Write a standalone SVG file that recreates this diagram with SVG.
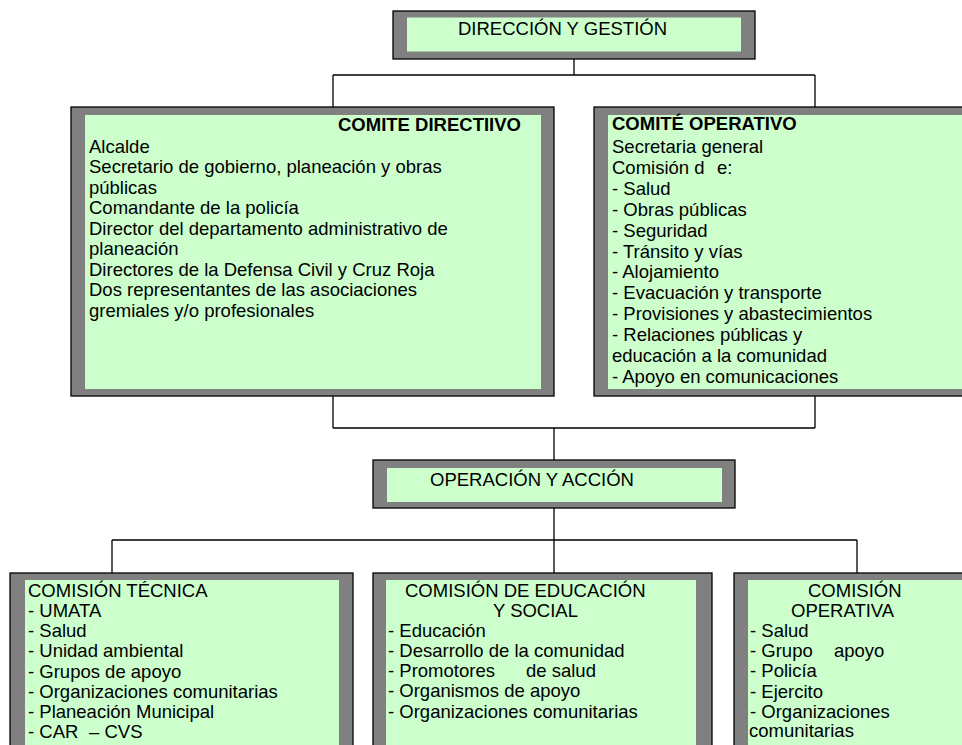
<svg xmlns="http://www.w3.org/2000/svg" width="962" height="745" viewBox="0 0 962 745">
<style>
.frame{fill:#808080;stroke:#000;stroke-width:1.3}
.fill{fill:#CCFFCC}
.t{font-family:"Liberation Sans",Arial,sans-serif;font-size:18.5px;fill:#000}
.b{font-weight:bold}
.conn{fill:none;stroke:#000;stroke-width:1.3}
</style>
<rect width="962" height="745" fill="#fff"/>
<g id="connectors" class="conn">
<path d="M574 59V75M333 75H815M333 75V107M815 75V107"/>
<path d="M333 396V428M815 396V428M333 428H815M554 428V460"/>
<path d="M554 508V540M112 540H857M112 540V573M554 540V573M857 540V573"/>
</g>
<g id="direccion">
<rect class="frame" x="393" y="11" width="362" height="48"/>
<rect class="fill" x="407" y="17.5" width="334" height="34"/>
<text class="t" x="458" y="35">DIRECCIÓN Y GESTIÓN</text>
</g>
<g id="comite-directivo">
<rect class="frame" x="71" y="107" width="483" height="289"/>
<rect class="fill" x="85" y="115" width="456" height="274"/>
<text class="t b" x="338" y="131">COMITE DIRECTIIVO</text>
<text class="t" x="89">
<tspan x="89" y="152.7">Alcalde</tspan>
<tspan x="89" y="173.2">Secretario de gobierno, planeación y obras</tspan>
<tspan x="89" y="193.7">públicas</tspan>
<tspan x="89" y="214.2">Comandante de la policía</tspan>
<tspan x="89" y="234.7">Director del departamento administrativo de</tspan>
<tspan x="89" y="255.2">planeación</tspan>
<tspan x="89" y="275.7">Directores de la Defensa Civil y Cruz Roja</tspan>
<tspan x="89" y="296.2">Dos representantes de las asociaciones</tspan>
<tspan x="89" y="316.7">gremiales y/o profesionales</tspan>
</text>
</g>
<g id="comite-operativo">
<rect class="frame" x="594" y="107" width="442" height="289"/>
<rect class="fill" x="608" y="115" width="414" height="274"/>
<text class="t b" x="612" y="130">COMITÉ OPERATIVO</text>
<text class="t">
<tspan x="612" y="153.3">Secretaria general</tspan>
<tspan x="612" y="174.2">Comisión d</tspan><tspan x="717" y="174.2">e:</tspan>
<tspan x="612" y="195">- Salud</tspan>
<tspan x="612" y="215.9">- Obras públicas</tspan>
<tspan x="612" y="236.7">- Seguridad</tspan>
<tspan x="612" y="257.6">- Tránsito y vías</tspan>
<tspan x="612" y="278.4">- Alojamiento</tspan>
<tspan x="612" y="299.3">- Evacuación y transporte</tspan>
<tspan x="612" y="320.1">- Provisiones y abastecimientos</tspan>
<tspan x="612" y="341">- Relaciones públicas y</tspan>
<tspan x="612" y="361.8">educación a la comunidad</tspan>
<tspan x="612" y="382.7">- Apoyo en comunicaciones</tspan>
</text>
</g>
<g id="operacion">
<rect class="frame" x="373" y="460" width="362" height="48"/>
<rect class="fill" x="387" y="468" width="335" height="34"/>
<text class="t" x="430" y="486">OPERACIÓN Y ACCIÓN</text>
</g>
<g id="comision-tecnica">
<rect class="frame" x="10" y="573" width="343" height="200"/>
<rect class="fill" x="25" y="580" width="314" height="200"/>
<text class="t">
<tspan x="28" y="596.7">COMISIÓN TÉCNICA</tspan>
<tspan x="28" y="616.9">- UMATA</tspan>
<tspan x="28" y="637.1">- Salud</tspan>
<tspan x="28" y="657.3">- Unidad ambiental</tspan>
<tspan x="28" y="677.5">- Grupos de apoyo</tspan>
<tspan x="28" y="697.7">- Organizaciones comunitarias</tspan>
<tspan x="28" y="717.9">- Planeación Municipal</tspan>
<tspan x="28" y="738.1">- CAR</tspan><tspan x="89" y="738.1">– CVS</tspan>
</text>
</g>
<g id="comision-educacion">
<rect class="frame" x="373" y="573" width="339" height="200"/>
<rect class="fill" x="386" y="580" width="310" height="200"/>
<text class="t">
<tspan x="405" y="596.7">COMISIÓN DE EDUCACIÓN</tspan>
<tspan x="493" y="616.7">Y SOCIAL</tspan>
<tspan x="388" y="636.7">- Educación</tspan>
<tspan x="388" y="656.9">- Desarrollo de la comunidad</tspan>
<tspan x="388" y="677.1">- Promotores</tspan><tspan x="526" y="677.1">de salud</tspan>
<tspan x="388" y="697.3">- Organismos de apoyo</tspan>
<tspan x="388" y="717.5">- Organizaciones comunitarias</tspan>
</text>
</g>
<g id="comision-operativa">
<rect class="frame" x="734" y="573" width="245" height="200"/>
<rect class="fill" x="748" y="580" width="217" height="200"/>
<text class="t">
<tspan x="808" y="596.7">COMISIÓN</tspan>
<tspan x="791" y="616.7">OPERATIVA</tspan>
<tspan x="750" y="636.7">- Salud</tspan>
<tspan x="750" y="657">- Grupo</tspan><tspan x="834" y="657">apoyo</tspan>
<tspan x="750" y="677.2">- Policía</tspan>
<tspan x="750" y="697.5">- Ejercito</tspan>
<tspan x="750" y="717.7">- Organizaciones</tspan>
<tspan x="749" y="737">comunitarias</tspan>
</text>
</g>
</svg>
